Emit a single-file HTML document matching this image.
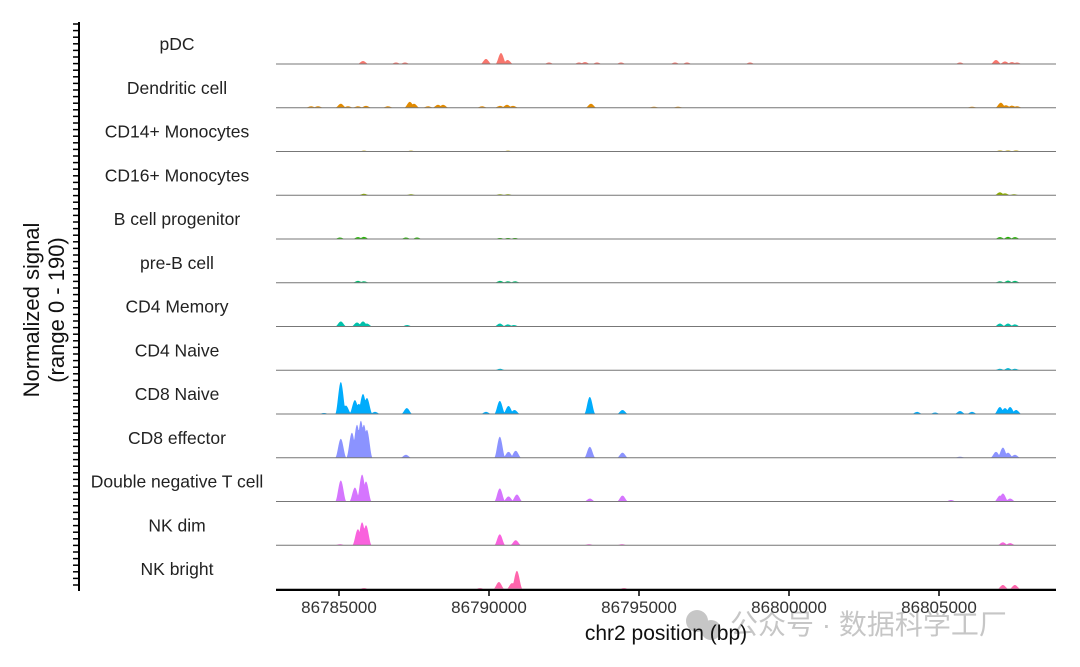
<!DOCTYPE html>
<html><head><meta charset="utf-8"><style>
body{margin:0;background:#fff;}
svg{display:block;font-family:"Liberation Sans","Noto Sans CJK SC",sans-serif;}
</style></head><body>
<svg id="c" width="1080" height="667" xmlns="http://www.w3.org/2000/svg">
<g>
<text x="39" y="310" font-size="22" fill="#111" text-anchor="middle" transform="rotate(-90 39 310)">Normalized signal</text>
<text x="64" y="310" font-size="22" fill="#111" text-anchor="middle" transform="rotate(-90 64 310)">(range 0 - 190)</text>
</g>
<g opacity="0.55">
<circle cx="697" cy="621" r="11" fill="#999"/>
<circle cx="711" cy="630" r="10" fill="#999"/>
<text x="730" y="634" font-size="28" fill="#999">公众号 · 数据科学工厂</text>
</g>
<text x="666" y="640" font-size="21" fill="#111" text-anchor="middle">chr2 position (bp)</text>
</svg>
<script>
const tracks=["pDC","Dendritic cell","CD14+ Monocytes","CD16+ Monocytes","B cell progenitor","pre-B cell","CD4 Memory","CD4 Naive","CD8 Naive","CD8 effector","Double negative T cell","NK dim","NK bright"];
const colors=["#F8766D","#E18A00","#BE9C00","#8CAB00","#24B700","#00BE70","#00C1AB","#00BBDA","#00ACFC","#8B93FF","#D575FE","#F962DD","#FF65AC"];
const xTicks=[86785000,86790000,86795000,86800000,86805000];
const peaksPDC=[[86785800,14],[86786900,7],[86787200,7],[86789900,24],[86790400,52],[86790620,19],[86792000,7],[86793000,7],[86793200,9],[86793600,7],[86794400,7],[86796200,7],[86796600,7],[86798700,7],[86805700,7],[86806900,19],[86807200,12],[86807430,9],[86807600,7]];
const peaksDC=[[86784070,7],[86784300,7],[86785060,19],[86785300,7],[86785630,7],[86785900,9],[86786630,7],[86787360,28],[86787500,19],[86787970,7],[86788300,14],[86788470,14],[86789770,7],[86790370,9],[86790600,14],[86790800,9],[86793400,19],[86795500,5],[86796300,5],[86806100,5],[86807060,24],[86807230,12],[86807430,10],[86807600,7]];
const peaksCD14=[[86785830,4],[86787400,4],[86790630,4],[86807030,5],[86807300,5],[86807570,5]];
const peaksCD16=[[86785830,7],[86787400,5],[86790370,5],[86790630,5],[86807030,14],[86807200,9],[86807500,5]];
const peaksBP=[[86785030,7],[86785630,9],[86785830,10],[86787230,7],[86787600,7],[86790370,5],[86790630,5],[86790870,5],[86807030,9],[86807300,10],[86807530,9]];
const peaksPB=[[86785630,9],[86785830,7],[86790370,9],[86790630,7],[86790870,7],[86807030,7],[86807300,10],[86807530,9]];
const peaksCD4M=[[86785060,24],[86785600,19],[86785800,24],[86785930,14],[86787270,7],[86790360,14],[86790630,10],[86790830,7],[86807030,14],[86807300,14],[86807530,10]];
const peaksCD4N=[[86790370,7],[86807030,7],[86807300,10],[86807530,7]];
const peaksCD8N=[[86784500,5],[86785060,152],[86785230,40],[86785530,66],[86785660,48],[86785800,95],[86785930,76],[86786200,10],[86787260,28],[86789900,10],[86790360,62],[86790650,38],[86790850,19],[86793360,81],[86794450,19],[86804270,10],[86804870,7],[86805700,14],[86806100,10],[86807030,33],[86807200,28],[86807370,33],[86807570,19]];
const peaksCD8E=[[86785060,90],[86785430,119],[86785600,157],[86785730,176],[86785830,157],[86785930,133],[86787230,14],[86790360,100],[86790650,28],[86790890,33],[86793360,52],[86794450,24],[86805700,5],[86806900,28],[86807130,48],[86807300,24],[86807530,14]];
const peaksDNT=[[86785060,100],[86785530,66],[86785770,128],[86785900,95],[86790360,62],[86790650,24],[86790930,33],[86793360,14],[86794450,28],[86805400,7],[86807030,28],[86807130,38],[86807370,14]];
const peaksNKD=[[86785030,5],[86785630,76],[86785770,109],[86785900,95],[86790360,52],[86790890,24],[86793330,5],[86794430,5],[86807130,14],[86807370,10]];
const peaksNKB=[[86785830,5],[86789700,5],[86790330,33],[86790770,28],[86790930,86],[86794500,5],[86807130,19],[86807530,19]];
const allPeaks=[peaksPDC,peaksDC,peaksCD14,peaksCD16,peaksBP,peaksPB,peaksCD4M,peaksCD4N,peaksCD8N,peaksCD8E,peaksDNT,peaksNKD,peaksNKB];

const NS="http://www.w3.org/2000/svg";
const svg=document.getElementById('c');
const X0=276,X1=1056,BP0=86782900,PXPB=0.03;
const xs=b=>X0+(b-BP0)*PXPB;
const base0=64,step=43.75,trackH=40,YMAX=190;
const ys=(v,i)=>base0+i*step-v/YMAX*trackH;
function mk(t,a){const e=document.createElementNS(NS,t);for(const k in a)e.setAttribute(k,a[k]);return e;}

const axis=mk('g',{});


axis.appendChild(mk('line',{x1:79,y1:22,x2:79,y2:591,stroke:'#000','stroke-width':2}));
for(let y=24;y<=590;y+=6.6){axis.appendChild(mk('line',{x1:73,y1:y.toFixed(1),x2:79,y2:y.toFixed(1),stroke:'#000','stroke-width':1.5}));}
svg.appendChild(axis);

const hw=190;
tracks.forEach((name,i)=>{
  const g=mk('g',{});
  
  
  const base=ys(0,i);
  const lab=mk('text',{x:177,y:base-14,'font-size':17.5,fill:'#222','text-anchor':'middle'});
  lab.textContent=name;
  
  
  g.appendChild(lab);
  let d='M'+X0+' '+base;
  const pk=allPeaks[i];
  for(let px=X0;px<=X1;px+=0.5){
    const b=BP0+(px-X0)/PXPB;let v=0;
    pk.forEach(p=>{const t=Math.abs(b-p[0])/hw;if(t<1){const w=p[1]*0.5*(1+Math.cos(Math.PI*t));if(w>v)v=w;}});
    d+=' L'+px+' '+ys(v,i).toFixed(2);
  }
  d+=' L'+X1+' '+base+' Z';
  const area=mk('path',{d:d,fill:colors[i],stroke:'none'});
  
  
  g.appendChild(area);
  g.appendChild(mk('line',{x1:X0,y1:base,x2:X1,y2:base,stroke:'#777','stroke-width':1}));
  svg.appendChild(g);
});

const xa=mk('g',{});


xa.appendChild(mk('line',{x1:X0,y1:590,x2:X1,y2:590,stroke:'#000','stroke-width':2}));
xTicks.forEach(t=>{
  const x=xs(t);
  xa.appendChild(mk('line',{x1:x,y1:590,x2:x,y2:596,stroke:'#000','stroke-width':1.5}));
  const tx=mk('text',{x:x,y:613,'font-size':17,fill:'#333','text-anchor':'middle'});
  tx.textContent=t;
  
  
  xa.appendChild(tx);
});
svg.appendChild(xa);
</script>
</body></html>
